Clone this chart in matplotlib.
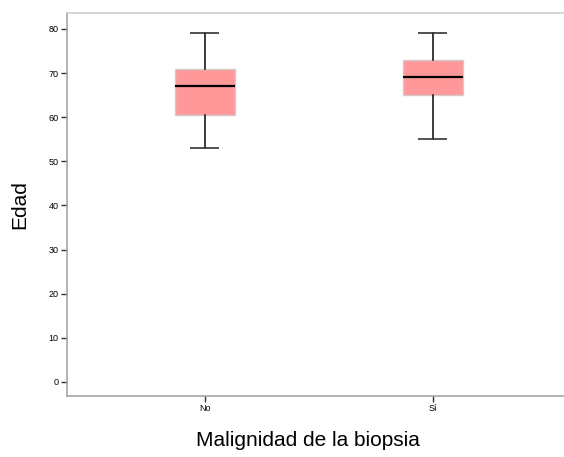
import matplotlib.pyplot as plt

plt.rcParams['font.family'] = ['Liberation Sans', 'DejaVu Sans']

# Data
categories = ['No', 'Sí']
whisker_low = [53, 55]
q1 = [60.5, 65]
median = [67, 69]
q3 = [71, 73]
whisker_high = [79, 79]

stats = []
for i in range(len(categories)):
    stats.append({'label': categories[i], 'whislo': whisker_low[i], 'q1': q1[i],
                  'med': median[i], 'q3': q3[i], 'whishi': whisker_high[i], 'fliers': []})

fig = plt.figure(figsize=(5.64, 4.57), dpi=100)
ax = fig.add_axes([67 / 564, 61 / 457, 497 / 564, 383 / 457])

ax.bxp(stats, positions=range(len(categories)), widths=0.26, patch_artist=True,
       showfliers=False,
       boxprops=dict(facecolor='#ff9999', edgecolor='#d9c8c8', linewidth=1),
       medianprops=dict(color='black', linewidth=1.6),
       whiskerprops=dict(color='#1a1a1a', linewidth=1.2),
       capprops=dict(color='#333333', linewidth=1.2, solid_capstyle='butt'),
       capwidths=0.127)

# Axes
ax.set_xlim(-0.605, 1.575)
ax.set_ylim(-3.2, 83.6)
ax.set_yticks(range(0, 81, 10))
ax.set_xticks(range(len(categories)))
ax.set_xticklabels(categories)
ax.tick_params(labelsize=6.5, length=4, width=1, color='#333333', pad=2)

ax.spines['right'].set_visible(False)
ax.spines['top'].set_color('#cfcfcf')
ax.spines['left'].set_color('#a6a6a6')
ax.spines['bottom'].set_color('#a6a6a6')
for s in ax.spines.values():
    s.set_linewidth(1.2)

# Labels
ax.set_xlabel('Malignidad de la biopsia', fontsize=15, labelpad=13)
ax.xaxis.label.set_x(0.485)
ax.set_ylabel('Edad', fontsize=15, labelpad=14)

fig.savefig('out.png', dpi=100)
